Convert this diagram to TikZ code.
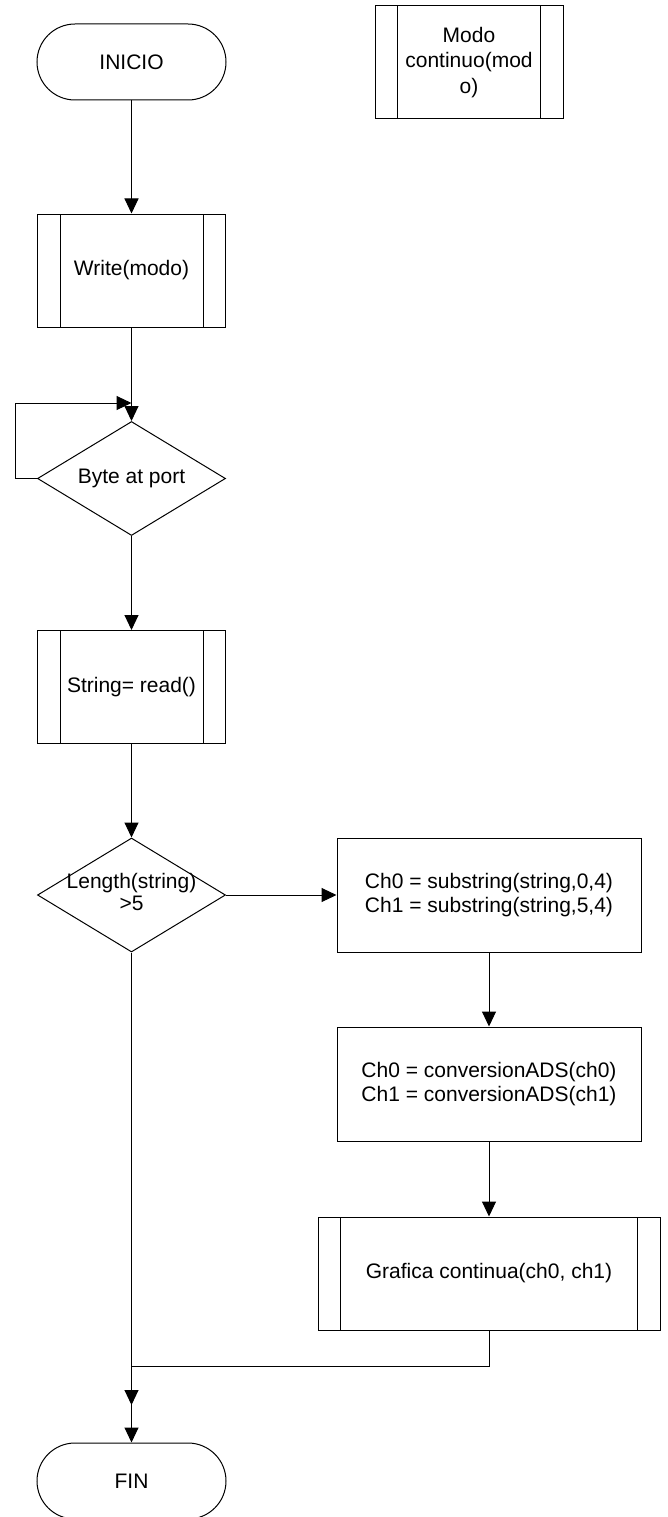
\documentclass[tikz,border=0pt]{standalone}
\usepackage{fontspec}
\setmainfont{Liberation Sans}
\usetikzlibrary{shapes.geometric,arrows.meta}
\tikzset{
  base/.style={draw, line width=1pt, inner sep=0pt, align=center, font=\fontsize{21}{24}\selectfont},
  term/.style={base, rectangle, rounded corners=38pt, minimum width=189pt, minimum height=76pt},
  proc/.style={base, rectangle, minimum width=304pt, minimum height=114pt},
  subr/.style={base, rectangle, minimum height=113pt,
    path picture={\draw[line width=1pt]
      ([xshift=22.5pt]path picture bounding box.north west) -- ([xshift=22.5pt]path picture bounding box.south west)
      ([xshift=-22.5pt]path picture bounding box.north east) -- ([xshift=-22.5pt]path picture bounding box.south east);}},
  dec/.style={base, diamond, minimum width=188pt, minimum height=114pt},
  dlabel/.style={font=\fontsize{21}{22}\selectfont, align=center, inner sep=0pt},
  arr/.style={line width=1pt, -{Triangle[length=15pt,width=14pt]}},
  ln/.style={line width=1pt}
}
\begin{document}
\begin{tikzpicture}[x=1pt,y=-1pt]
\useasboundingbox (0,0) rectangle (667,1517);
\fill[white] (0,0) rectangle (667,1517);

\node[term] (ini) at (131.5,62) {INICIO};
\node[subr, minimum width=188pt, font=\fontsize{21}{25.5}\selectfont] (modo) at (469,62.5) {Modo\\continuo(mod\\o)};
\node[subr, minimum width=188pt] (write) at (131.5,270.5) {Write(modo)};
\node[dec] (d1) at (131.5,478.5) {};
\node[dlabel] (d1t) at (d1.center) {Byte at port};
\node[subr, minimum width=188pt] (read) at (131.5,687) {String= read()};
\node[dec] (d2) at (131.5,895) {};
\node[dlabel] (d2t) at (131.5,892) {Length(string)\\>5};
\node[proc] (p1) at (489,895) {Ch0 = substring(string,0,4)\\Ch1 = substring(string,5,4)};
\node[proc] (p2) at (489,1084) {Ch0 = conversionADS(ch0)\\Ch1 = conversionADS(ch1)};
\node[subr, minimum width=342pt] (g) at (489,1273.5) {Grafica continua(ch0, ch1)};
\node[term] (fin) at (131.5,1481) {FIN};

\coordinate (lc) at (15,403);
\coordinate (lp) at (131.5,403);
\coordinate (m) at (131.5,1366);
\coordinate (j) at (131.5,1405);

\draw[arr] (ini) -- (write);
\draw[arr] (write) -- (d1);
\draw[arr] (d1.west) -| (lc) -- (lp);
\draw[arr] (d1) -- (read);
\draw[arr] (read) -- (d2);
\draw[arr] (d2.east) -- (p1.west);
\draw[arr] (p1) -- (p2);
\draw[arr] (p2) -- (g);
\draw[arr] (d2.south) -- (j);
\draw[arr] (g.south) |- (m) -- (fin);
\end{tikzpicture}
\end{document}
